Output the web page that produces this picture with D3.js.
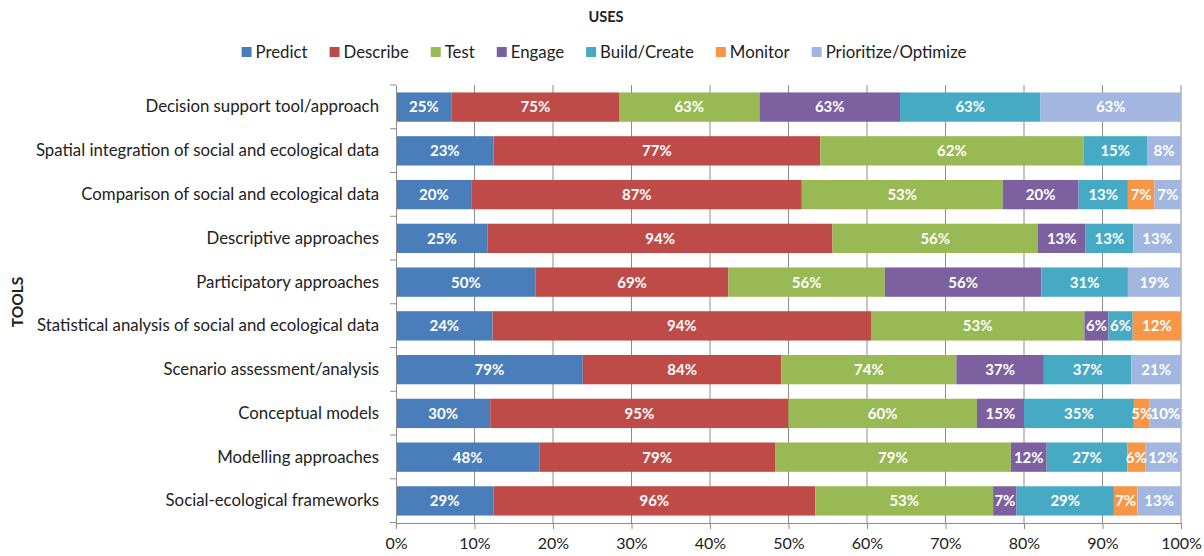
<!DOCTYPE html>
<html>
<head>
<meta charset="utf-8">
<script src="https://cdn.jsdelivr.net/npm/d3@7"></script>
<style>
  body { margin: 0; background: #fff; }
  svg { font-family: Lato, "Noto Sans", sans-serif; }
</style>
</head>
<body>
<script>
// categories (top to bottom)
const tools = [
  "Decision support tool/approach",
  "Spatial integration of social and ecological data",
  "Comparison of social and ecological data",
  "Descriptive approaches",
  "Participatory approaches ",
  "Statistical analysis of social and ecological data",
  "Scenario assessment/analysis",
  "Conceptual models ",
  "Modelling approaches",
  "Social-ecological frameworks"
];
const uses = ["Predict", "Describe", "Test", "Engage", "Build/Create", "Monitor", "Prioritize/Optimize"];
const colors = ["#4a7ebb", "#be4b48", "#98b954", "#7d60a0", "#46aac5", "#f79646", "#a2b6e0"];

// series values, one per use, in tool order
const predict    = [25, 23, 20, 25, 50, 24, 79, 30, 48, 29];
const describe   = [75, 77, 87, 94, 69, 94, 84, 95, 79, 96];
const test       = [63, 62, 53, 56, 56, 53, 74, 60, 79, 53];
const engage     = [63, 0, 20, 13, 56, 6, 37, 15, 12, 7];
const build      = [63, 15, 13, 13, 31, 6, 37, 35, 27, 29];
const monitor    = [0, 0, 7, 0, 0, 12, 0, 5, 6, 7];
const prioritize = [63, 8, 7, 13, 19, 0, 21, 10, 12, 13];
const series = [predict, describe, test, engage, build, monitor, prioritize];

const xTicks = [0, 0.1, 0.2, 0.3, 0.4, 0.5, 0.6, 0.7, 0.8, 0.9, 1];

const width = 1204, height = 556;
const margin = {top: 85, right: 23, bottom: 33, left: 396};

const svg = d3.select("body").append("svg")
  .attr("width", width)
  .attr("height", height);

const rows = tools.map((t, i) => {
  const r = {tool: t};
  uses.forEach((u, j) => r[u] = series[j][i]);
  return r;
});

const stacked = d3.stack()
  .keys(uses)
  .offset(d3.stackOffsetExpand)(rows);

const x = d3.scaleLinear()
  .domain([0, 1])
  .range([margin.left, width - margin.right]);

const y = d3.scaleBand()
  .domain(tools)
  .range([margin.top, height - margin.bottom])
  .paddingInner(0.33)
  .paddingOuter(0.17);

// gridlines
svg.append("g")
  .selectAll("line")
  .data(xTicks.slice(1))
  .join("line")
  .attr("x1", d => x(d)).attr("x2", d => x(d))
  .attr("y1", margin.top).attr("y2", height - margin.bottom)
  .attr("stroke", "#8c8c8c")
  .attr("stroke-width", 1);

// bars
const layer = svg.append("g")
  .selectAll("g")
  .data(stacked)
  .join("g")
  .attr("fill", (d, i) => colors[i]);

layer.selectAll("rect")
  .data(d => d)
  .join("rect")
  .attr("x", d => x(d[0]))
  .attr("y", d => y(d.data.tool))
  .attr("width", d => x(d[1]) - x(d[0]))
  .attr("height", y.bandwidth());

// labels inside segments
stacked.forEach((s, i) => {
  svg.append("g")
    .selectAll("text")
    .data(s.filter(d => d.data[s.key] > 0))
    .join("text")
    .attr("x", d => (x(d[0]) + x(d[1])) / 2)
    .attr("y", d => y(d.data.tool) + y.bandwidth() / 2)
    .attr("dy", "0.36em")
    .attr("text-anchor", "middle")
    .attr("fill", "#fff")
    .attr("font-weight", "bold")
    .attr("font-size", 15)
    .text(d => d.data[s.key] + "%");
});

// x axis
const xAxis = svg.append("g")
  .attr("transform", `translate(0,${height - margin.bottom})`)
  .call(d3.axisBottom(x).tickValues(xTicks).tickFormat(d3.format(".0%")).tickSizeOuter(0).tickSize(6));
xAxis.select(".domain").attr("stroke", "#8c8c8c");
xAxis.selectAll(".tick line").attr("stroke", "#8c8c8c");
xAxis.selectAll("text")
  .attr("font-size", 16)
  .attr("font-family", "Lato, sans-serif")
  .attr("fill", "#222")
  .attr("dy", "1.05em");

// y axis
const yAxis = svg.append("g")
  .attr("transform", `translate(${margin.left},0)`)
  .call(d3.axisLeft(y).tickSize(0).tickPadding(17));
yAxis.select(".domain").attr("stroke", "#8c8c8c");
yAxis.selectAll("text")
  .attr("font-size", 16.8)
  .attr("font-family", "Lato, sans-serif")
  .attr("fill", "#222");

// category boundary ticks
const step = y.step();
svg.append("g")
  .selectAll("line")
  .data(d3.range(tools.length + 1))
  .join("line")
  .attr("x1", margin.left - 6).attr("x2", margin.left)
  .attr("y1", i => margin.top + i * step)
  .attr("y2", i => margin.top + i * step)
  .attr("stroke", "#8c8c8c");

// title
svg.append("text")
  .attr("x", 606).attr("y", 22)
  .attr("text-anchor", "middle")
  .attr("font-weight", "bold")
  .attr("font-size", 14.5)
  .attr("fill", "#222")
  .text("USES");

// y title
svg.append("text")
  .attr("transform", "translate(23,302) rotate(-90)")
  .attr("text-anchor", "middle")
  .attr("font-weight", "bold")
  .attr("font-size", 15.5)
  .attr("fill", "#222")
  .text("TOOLS");

// legend
const legend = svg.append("g").attr("transform", "translate(0,52)");
const items = legend.selectAll("g")
  .data(uses)
  .join("g");
items.append("rect")
  .attr("width", 10).attr("height", 10)
  .attr("y", -5)
  .attr("fill", (d, i) => colors[i]);
items.append("text")
  .attr("x", 14)
  .attr("dy", "0.36em")
  .attr("font-size", 16.8)
  .attr("fill", "#222")
  .text(d => d);
let pos = 0;
const gap = 22;
const widths = [];
items.each(function () {
  widths.push(14 + d3.select(this).select("text").node().getComputedTextLength());
});
const total = d3.sum(widths) + gap * (widths.length - 1);
let start = 604 - total / 2;
items.attr("transform", (d, i) => {
  const tx = start + pos;
  pos += widths[i] + gap;
  return `translate(${tx},0)`;
});
</script>
</body>
</html>
